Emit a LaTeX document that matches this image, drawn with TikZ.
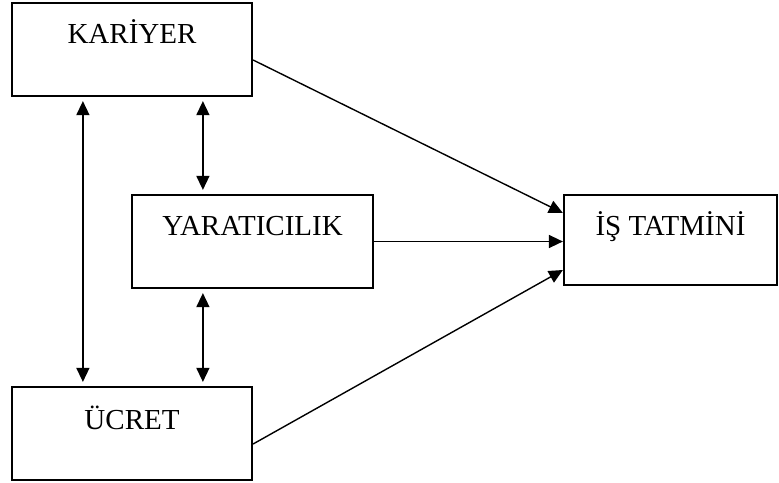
\documentclass[tikz,border=0pt]{standalone}
\usepackage{fontspec}
\setmainfont{Liberation Serif}
\usetikzlibrary{arrows.meta}
\begin{document}
\begin{tikzpicture}
        [x=1pt, y=-1pt,
        box/.style={draw, line width=2.2pt, inner sep=0pt, minimum width=240pt,
          text height=40pt, text depth=53pt, font=\fontsize{29}{34}\selectfont},
        link/.style={line width=1.4pt, -{Triangle[length=14pt,width=13pt]}},
        both/.style={line width=1.4pt, {Triangle[length=14pt,width=13pt]}-{Triangle[length=14pt,width=13pt]},
          shorten <=4pt, shorten >=4pt}]

        \useasboundingbox (0,0) rectangle (779,482);

        \node[box] (kariyer) at (132,49.5) {KARİYER};
        \node[box, minimum width=241pt] (yaratici) at (252.5,241.5) {YARATICILIK};
        \node[box, text height=42pt, text depth=51pt] (ucret) at (132,433.5) {ÜCRET};
        \node[box, minimum width=213pt, text depth=50pt] (tatmin) at (670.5,240) {İŞ TATMİNİ};

        % two-way links between the factors
        \draw[both] ([xshift=72pt]kariyer.south west) -- ([xshift=72pt]ucret.north west);
        \draw[both] ([xshift=192pt]kariyer.south west) -- ([xshift=72pt]yaratici.north west);
        \draw[both] ([xshift=72pt]yaratici.south west) -- ([xshift=192pt]ucret.north west);

        % links into job satisfaction
        \draw[link] ([yshift=-10.5pt]kariyer.east) -- ([yshift=27pt]tatmin.west);
        \draw[link] (yaratici.east) -- (yaratici.east -| tatmin.west);
        \draw[link] ([yshift=-10.5pt]ucret.east) -- ([yshift=-30pt]tatmin.west);

\end{tikzpicture}
\end{document}
